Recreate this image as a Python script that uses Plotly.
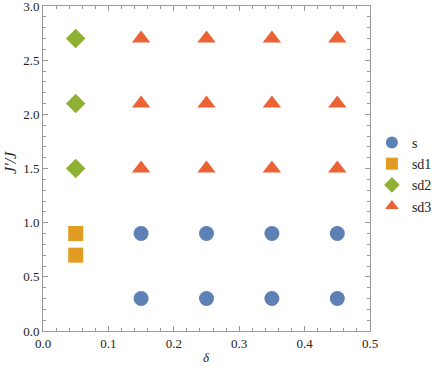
import plotly.graph_objects as go

s_x = [0.15, 0.25, 0.35, 0.45, 0.15, 0.25, 0.35, 0.45]
s_y = [0.3, 0.3, 0.3, 0.3, 0.9, 0.9, 0.9, 0.9]
sd1_x = [0.05, 0.05]
sd1_y = [0.7, 0.9]
sd2_x = [0.05, 0.05, 0.05]
sd2_y = [1.5, 2.1, 2.7]
sd3_x = [0.15, 0.25, 0.35, 0.45] * 3
sd3_y = [1.5] * 4 + [2.1] * 4 + [2.7] * 4

x_ticks = [0.0, 0.1, 0.2, 0.3, 0.4, 0.5]
y_ticks = [0.0, 0.5, 1.0, 1.5, 2.0, 2.5, 3.0]

series = [
    ("s", s_x, s_y, "circle", "#5E81B5", 15),
    ("sd1", sd1_x, sd1_y, "square", "#E19C24", 15),
    ("sd2", sd2_x, sd2_y, "diamond", "#8FB032", 15),
    ("sd3", sd3_x, sd3_y, "triangle-up", "#EB6235", 16),
]

fig = go.Figure()
for name, xs, ys, sym, col, sz in series:
    fig.add_trace(go.Scatter(x=xs, y=ys, mode="markers", name=name,
                             marker=dict(symbol=sym, color=col, size=sz, line=dict(width=0))))

font = "Liberation Serif"
axis_common = dict(showgrid=False, zeroline=False, showline=True, linecolor="#999999",
                   linewidth=1, mirror="allticks", ticks="inside", ticklen=5,
                   tickcolor="#999999", automargin=False, tickmode="array",
                   ticklabeloverflow="allow",
                   tickfont=dict(family=font, size=13, color="#222222"))

fig.update_xaxes(range=[0, 0.5], tickvals=x_ticks, ticktext=[f"{v:.1f}" for v in x_ticks],
                 minor=dict(dtick=0.02, ticks="inside", ticklen=3, tickcolor="#999999"),
                 **axis_common)
fig.update_yaxes(range=[0, 3], tickvals=y_ticks, ticktext=[f"{v:.1f}" for v in y_ticks],
                 minor=dict(dtick=0.1, ticks="inside", ticklen=3, tickcolor="#999999"),
                 **axis_common)

fig.add_annotation(text="<i>δ</i>", xref="paper", yref="paper", x=0.5, y=-0.083,
                   xanchor="center", yanchor="middle", showarrow=False,
                   font=dict(family=font, size=13, color="#222222"))
fig.add_annotation(text="<i>J′/J</i>", xref="paper", yref="paper", x=-0.101, y=0.52,
                   xanchor="center", yanchor="middle", showarrow=False, textangle=-90,
                   font=dict(family=font, size=16, color="#222222"))

fig.update_layout(
    width=436, height=369,
    margin=dict(l=43, r=66, t=6, b=38),
    plot_bgcolor="white", paper_bgcolor="white",
    font=dict(family=font, size=13, color="#222222"),
    legend=dict(x=0.853, y=0.628 * 325 / 369 + 38 / 369, xref="container", yref="container",
                xanchor="left", yanchor="top",
                font=dict(family=font, size=14, color="#222222"),
                itemsizing="constant", itemwidth=30, bgcolor="rgba(0,0,0,0)"),
)

fig.write_html("out.html", config={"displayModeBar": False},
               post_script="document.body.style.margin='0';document.body.style.padding='0';")
